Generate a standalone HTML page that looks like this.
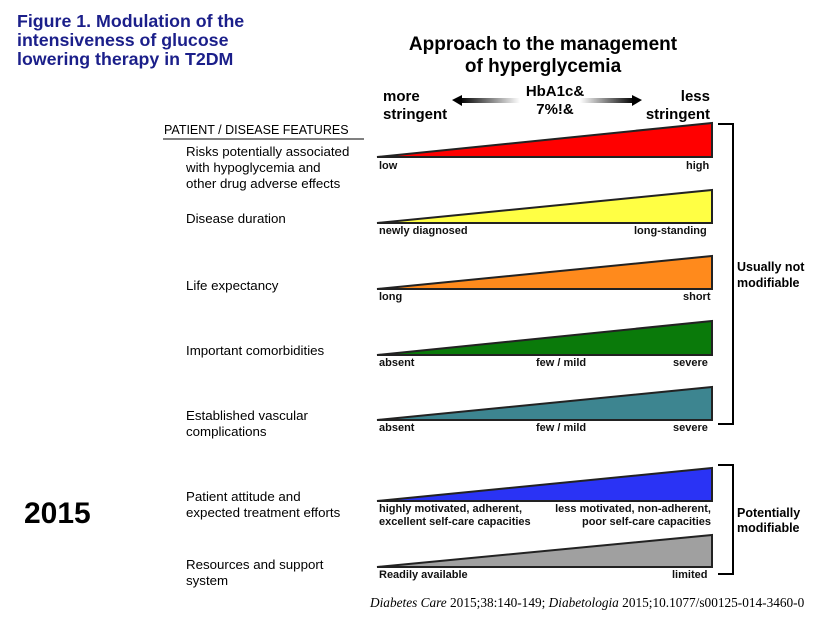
<!DOCTYPE html>
<html><head><style>
body{margin:0;background:#fff;width:832px;height:630px;position:relative;overflow:hidden;font-family:"Liberation Sans",sans-serif}
.t{position:absolute;white-space:nowrap}
.b{font-weight:bold}
.lab{font-size:13.3px;color:#000;line-height:16px}
.s{font-size:11px;font-weight:bold;color:#111}
</style></head><body>
<div class="t b" style="left:17px;top:12px;font-size:17.8px;line-height:19px;color:#1b1f8a">Figure 1. Modulation of the<br>intensiveness of glucose<br>lowering therapy in T2DM</div>
<div class="t b" style="left:400px;top:34px;font-size:19px;line-height:22px;text-align:center;width:286px">Approach to the management<br>of hyperglycemia</div>
<div class="t b" style="left:383px;top:88px;font-size:15px;line-height:18px">more<br>stringent</div>
<div class="t b" style="left:640px;top:88px;font-size:15px;line-height:18px;text-align:right;width:70px">less<br>stringent</div>
<div class="t b" style="left:520px;top:83px;font-size:15px;line-height:18px;text-align:center;width:70px">HbA1c&amp;<br>7%!&amp;</div>
<svg class="t" style="left:0;top:0" width="832" height="630">
<defs>
<linearGradient id="gl" x1="0" x2="1"><stop offset="0" stop-color="#000"/><stop offset="1" stop-color="#fff"/></linearGradient>
<linearGradient id="gr" x1="0" x2="1"><stop offset="0" stop-color="#fff"/><stop offset="1" stop-color="#000"/></linearGradient>
</defs>
<rect x="460" y="98" width="60" height="5" fill="url(#gl)"/><polygon points="452,100 462,95 462,106" fill="#000"/>
<rect x="580" y="98" width="54" height="5" fill="url(#gr)"/><polygon points="642,100 632,95 632,106" fill="#000"/>
<g stroke="#222" stroke-width="2">
<polygon points="377,157 712,123 712,157" fill="#ff0000"/>
<polygon points="377,223 712,190 712,223" fill="#ffff44"/>
<polygon points="377,289 712,256 712,289" fill="#ff8a1c"/>
<polygon points="377,355 712,321 712,355" fill="#0a7a0a"/>
<polygon points="377,420 712,387 712,420" fill="#3d8590"/>
<polygon points="377,501 712,468 712,501" fill="#2a33f5"/>
<polygon points="377,567 712,535 712,567" fill="#a0a0a0"/>
</g>
<path d="M718,124 H733 V424 H718" fill="none" stroke="#000" stroke-width="2"/>
<path d="M718,465 H733 V574 H718" fill="none" stroke="#000" stroke-width="2"/>
<line x1="163" y1="139" x2="364" y2="139" stroke="#000" stroke-width="1"/>
</svg>
<div class="t" style="left:164px;top:123px;font-size:12.5px">PATIENT / DISEASE FEATURES</div>
<div class="t lab" style="left:186px;top:144px">Risks potentially associated<br>with hypoglycemia and<br>other drug adverse effects</div>
<div class="t lab" style="left:186px;top:211px">Disease duration</div>
<div class="t lab" style="left:186px;top:278px">Life expectancy</div>
<div class="t lab" style="left:186px;top:343px">Important comorbidities</div>
<div class="t lab" style="left:186px;top:408px">Established vascular<br>complications</div>
<div class="t lab" style="left:186px;top:489px">Patient attitude and<br>expected treatment efforts</div>
<div class="t lab" style="left:186px;top:557px">Resources and support<br>system</div>
<div class="t b" style="left:24px;top:497px;font-size:30px">2015</div>
<div class="t s" style="left:379px;top:160px">low</div><div class="t s" style="left:686px;top:160px">high</div>
<div class="t s" style="left:379px;top:225px">newly diagnosed</div><div class="t s" style="left:634px;top:225px">long-standing</div>
<div class="t s" style="left:379px;top:291px">long</div><div class="t s" style="left:683px;top:291px">short</div>
<div class="t s" style="left:379px;top:357px">absent</div><div class="t s" style="left:536px;top:357px">few / mild</div><div class="t s" style="left:673px;top:357px">severe</div>
<div class="t s" style="left:379px;top:422px">absent</div><div class="t s" style="left:536px;top:422px">few / mild</div><div class="t s" style="left:673px;top:422px">severe</div>
<div class="t s" style="left:379px;top:503px;line-height:13px">highly motivated, adherent,<br>excellent self-care capacities</div>
<div class="t s" style="left:530px;top:503px;line-height:13px;text-align:right;width:181px">less motivated, non-adherent,<br>poor self-care capacities</div>
<div class="t s" style="left:379px;top:569px">Readily available</div><div class="t s" style="left:672px;top:569px">limited</div>
<div class="t b" style="left:737px;top:259px;font-size:12.5px;line-height:16px">Usually not<br>modifiable</div>
<div class="t b" style="left:737px;top:506px;font-size:12.5px;line-height:15px">Potentially<br>modifiable</div>
<div class="t" style="left:370px;top:595px;font-family:'Liberation Serif',serif;font-size:13.3px"><i>Diabetes Care</i> 2015;38:140-149; <i>Diabetologia</i> 2015;10.1077/s00125-014-3460-0</div>
</body></html>
